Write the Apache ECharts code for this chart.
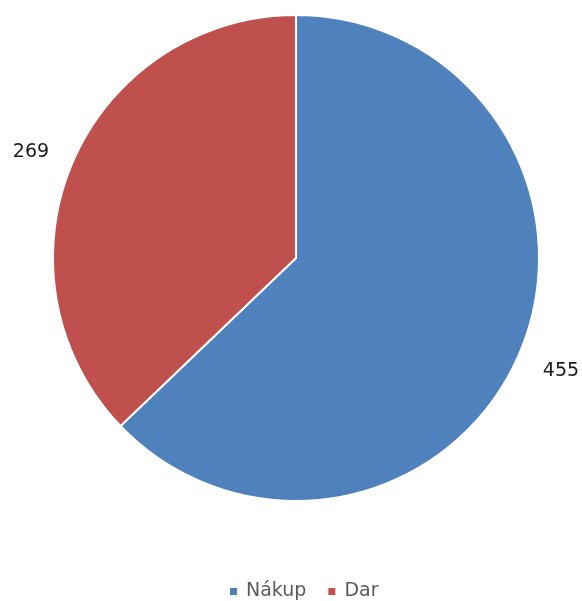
<!DOCTYPE html>
<html><head><meta charset="utf-8">
<script src="https://cdn.jsdelivr.net/npm/echarts@6/dist/echarts.min.js"></script>
<style>html,body{margin:0;padding:0;background:#fff}#c{width:582px;height:601px}</style>
</head><body><div id="c"></div>
<script>
const categories = ['Nákup', 'Dar'];
const values = [455, 269];
const colors = ['#4F81BD', '#C0504D'];
const labelFormats = ['{g| }\n{c}', '{c}\n{h| }'];
const chart = echarts.init(document.getElementById('c'));
chart.setOption({
  animation: false,
  legend: {
    top: 577, left: 223, itemWidth: 9, itemHeight: 9, itemGap: 20,
    icon: 'rect',
    textStyle: { fontFamily: 'DejaVu Sans', fontSize: 19, color: '#595959', padding: [0, 0, 0, 3] },
    data: categories
  },
  series: [{
    type: 'pie',
    center: [296, 258],
    radius: 243,
    startAngle: 90,
    clockwise: true,
    itemStyle: { borderColor: '#fff', borderWidth: 2 },
    label: {
      show: true, position: 'outside', fontFamily: 'DejaVu Sans', fontSize: 19, color: '#1a1a1a', overflow: 'none',
      rich: { g: { height: 20, lineHeight: 20, fontSize: 1 }, h: { height: 6, lineHeight: 6, fontSize: 1 } }
    },
    labelLine: { show: false, length: 20, length2: 0 },
    data: categories.map((n, i) => ({ name: n, value: values[i], itemStyle: { color: colors[i] }, label: { formatter: labelFormats[i] } }))
  }]
});
</script></body></html>
